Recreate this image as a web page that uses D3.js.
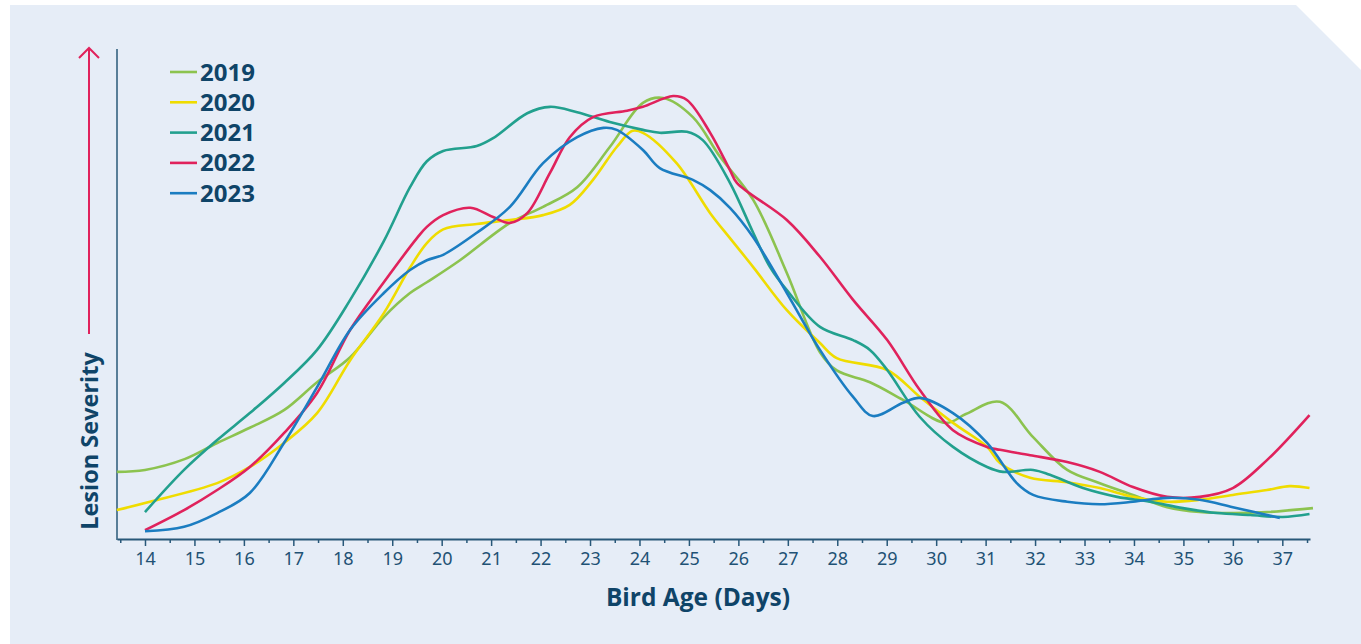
<!DOCTYPE html>
<html>
<head>
<meta charset="utf-8">
<script src="https://cdn.jsdelivr.net/npm/d3@7"></script>
<style>
html,body{margin:0;padding:0;background:#ffffff;}
svg{display:block;}
</style>
</head>
<body>
<svg id="chart" width="1361" height="644"></svg>
<script>
// ---- data ----
const years = ["2019", "2020", "2021", "2022", "2023"];
const colors = ["#8cc34f", "#efdc00", "#22a08e", "#e0225c", "#1b7dc1"];
const dayTicks = d3.range(14, 38);
const xLabel = "Bird Age (Days)";
const yLabel = "Lesion Severity";

// [bird age (days), relative lesion severity]
const s2019 = [[13.43,13.9],[14.0,14.3],[14.8,16.5],[15.46,19.8],[16.12,22.9],[16.81,26.5],[17.48,32.2],[18.15,37.3],[18.83,45.5],[19.36,50.4],[19.7,52.6],[20.37,57.1],[21.38,64.7],[22.05,68.0],[22.74,72.0],[23.4,80.2],[24.07,89.2],[24.48,90.2],[25.08,86.3],[25.63,78.2],[26.3,69.4],[26.98,54.5],[27.65,38.3],[27.99,34.6],[28.66,32.2],[29.33,28.6],[30.2,23.9],[30.6,25.7],[31.29,28.2],[31.96,21.0],[32.65,14.3],[33.31,11.6],[33.98,9.2],[34.67,6.7],[35.33,5.7],[36.0,5.5],[36.69,5.7],[37.62,6.5]];
const s2020 = [[13.43,6.1],[14.1,7.8],[15.46,11.6],[16.12,14.9],[16.81,19.8],[17.48,25.9],[18.15,36.7],[18.83,46.3],[19.36,55.6],[19.7,60.6],[20.03,63.4],[20.71,64.5],[21.38,65.3],[22.05,66.3],[22.59,68.4],[23.06,73.5],[23.54,80.2],[23.86,83.5],[24.07,83.1],[24.75,76.9],[25.43,66.7],[25.83,61.6],[26.3,55.7],[26.98,46.9],[27.65,40.2],[27.99,37.1],[29.01,34.7],[29.67,29.2],[30.34,23.9],[31.03,19.0],[31.29,15.7],[31.9,12.7],[32.65,11.8],[33.31,10.6],[33.98,8.8],[34.67,7.8],[35.33,8.2],[36.0,9.2],[36.69,10.2],[37.15,11.0],[37.55,10.6]];
const s2021 = [[14.0,5.7],[14.79,14.3],[15.46,20.4],[16.12,25.9],[16.81,32.0],[17.48,38.8],[18.15,49.0],[18.83,61.0],[19.36,72.0],[19.7,77.3],[20.03,79.4],[20.71,80.4],[21.04,82.0],[21.73,87.1],[22.19,88.4],[22.74,87.3],[23.4,85.3],[24.07,83.7],[24.41,83.1],[24.96,83.3],[25.28,81.6],[25.83,72.9],[26.3,62.7],[26.64,55.7],[26.98,51.0],[27.65,43.5],[28.32,40.8],[28.66,38.8],[29.01,34.7],[29.67,25.1],[30.34,19.0],[31.03,14.9],[31.35,13.9],[31.96,14.3],[32.3,13.3],[32.97,10.6],[33.66,8.8],[34.32,7.8],[34.99,6.5],[35.68,5.5],[36.35,5.1],[37.01,4.7],[37.55,5.3]];
const s2022 = [[14.0,2.0],[14.79,6.1],[15.46,10.2],[16.12,14.9],[16.81,21.8],[17.48,30.0],[18.15,42.9],[18.83,52.6],[19.5,61.6],[19.7,63.9],[20.03,66.3],[20.58,67.8],[21.04,65.9],[21.38,64.7],[21.73,66.7],[22.19,74.9],[22.59,82.2],[23.06,86.3],[23.75,87.6],[24.07,88.4],[24.68,90.6],[24.96,89.8],[25.43,83.1],[25.83,75.5],[25.97,72.9],[26.98,65.3],[27.65,57.8],[28.32,49.0],[29.01,40.8],[29.67,30.6],[30.34,22.4],[31.03,19.0],[31.29,18.4],[31.9,17.3],[32.65,15.9],[33.31,13.9],[33.98,10.8],[34.67,8.8],[35.33,8.8],[36.0,10.6],[36.69,16.3],[37.55,25.5]];
const s2023 = [[14.0,1.8],[14.79,2.7],[15.46,5.5],[16.12,9.6],[16.81,19.8],[17.48,31.2],[18.15,42.9],[18.83,50.4],[19.36,55.1],[19.7,57.1],[20.03,58.2],[20.71,62.7],[21.38,68.0],[22.05,76.9],[22.74,82.2],[23.27,84.1],[23.54,83.7],[24.07,79.6],[24.41,75.9],[25.08,73.5],[25.43,71.4],[25.83,67.8],[26.3,61.8],[26.98,50.4],[27.65,38.8],[28.32,29.2],[28.72,25.3],[29.33,28.0],[29.67,29.0],[30.34,25.9],[31.03,19.8],[31.63,11.6],[31.96,9.2],[32.65,7.8],[33.31,7.3],[33.98,7.8],[34.67,8.6],[35.33,8.2],[36.0,6.7],[36.95,4.5]];
const seriesValues = [s2019, s2020, s2021, s2022, s2023];

// ---- drawing ----
const svg = d3.select("#chart");
const axisColor = "#285879";
const textColor = "#0f4468";

// panel background with cut corner
svg.append("path")
  .attr("d", "M10,5 L1296,5 L1361,70 L1361,644 L10,644 Z")
  .attr("fill", "#e6edf7");

const x = d3.scaleLinear().domain([13.434, 37.56]).range([117, 1310]);
const y = d3.scaleLinear().domain([0, 100]).range([540, 50]);

// y axis line
svg.append("line").attr("x1", 117).attr("x2", 117).attr("y1", 49).attr("y2", 540)
  .attr("stroke", axisColor).attr("stroke-width", 1.5);

// minor ticks (half days)
const minorAxis = d3.axisBottom(x).tickValues(d3.range(13.5, 37.6, 1)).tickSize(4).tickFormat("");
const gMinor = svg.append("g").attr("transform", "translate(0,539)").call(minorAxis);
gMinor.select(".domain").remove();
gMinor.selectAll("line").attr("stroke", axisColor).attr("stroke-width", 1.5);

// major axis
const xAxis = d3.axisBottom(x).tickValues(dayTicks).tickSize(7).tickPadding(6).tickSizeOuter(0).tickFormat(d3.format("d"));
const gx = svg.append("g").attr("transform", "translate(0,539)").call(xAxis);
gx.select(".domain").attr("stroke", axisColor).attr("stroke-width", 2);
gx.selectAll(".tick line").attr("stroke", axisColor).attr("stroke-width", 1.5);
gx.selectAll(".tick text").attr("fill", "#1f5275")
  .style("font-family", "'Noto Sans', 'Open Sans', sans-serif").style("font-size", "18px");

// lines
const line = d3.line().x(d => x(d[0])).y(d => y(d[1])).curve(d3.curveCatmullRom.alpha(0.5));
seriesValues.forEach((s, i) => {
  svg.append("path").datum(s).attr("d", line)
    .attr("fill", "none").attr("stroke", colors[i]).attr("stroke-width", 2.6)
    .attr("stroke-linejoin", "round");
});

// legend
years.forEach((yr, i) => {
  const ly = 72 + i * 30.3;
  svg.append("line").attr("x1", 170).attr("x2", 197).attr("y1", ly).attr("y2", ly)
    .attr("stroke", colors[i]).attr("stroke-width", 2.6);
  svg.append("text").attr("x", 200).attr("y", ly + 8.5).text(yr)
    .attr("fill", textColor).style("font-family", "'Open Sans', sans-serif")
    .style("font-weight", 700).style("font-size", "24px");
});

// y label and arrow
svg.append("text").attr("transform", "translate(98,441) rotate(-90)")
  .attr("text-anchor", "middle").text(yLabel)
  .attr("fill", textColor).style("font-family", "'Open Sans', sans-serif")
  .style("font-weight", 700).style("font-size", "23.5px");
svg.append("line").attr("x1", 89).attr("x2", 89).attr("y1", 334).attr("y2", 48)
  .attr("stroke", "#e0225c").attr("stroke-width", 2);
svg.append("path").attr("d", "M79,58 L89,48 L99,58")
  .attr("fill", "none").attr("stroke", "#e0225c").attr("stroke-width", 2);

// x label
svg.append("text").attr("x", 698).attr("y", 606).attr("text-anchor", "middle").text(xLabel)
  .attr("fill", textColor).style("font-family", "'Open Sans', sans-serif")
  .style("font-weight", 700).style("font-size", "24.5px");
</script>
</body>
</html>
